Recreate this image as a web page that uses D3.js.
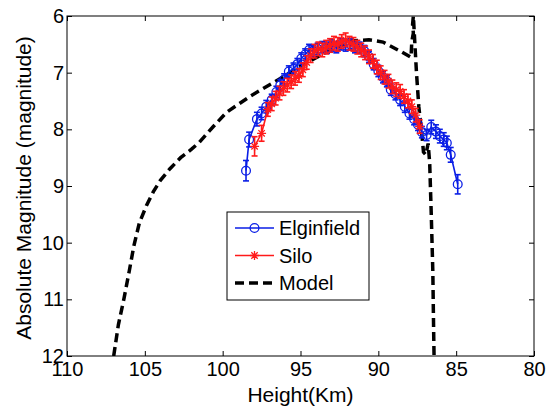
<!DOCTYPE html>
<html>
<head>
<meta charset="utf-8">
<script src="https://cdn.jsdelivr.net/npm/d3@7"></script>
<style>
  body { margin: 0; background: #fff; }
  text { font-family: "Liberation Sans", Arial, sans-serif; }
</style>
</head>
<body>
<div class="chart"></div>
<script>
// Elginfield meteor light curve (height km, abs magnitude, error)
const elginHeight = [98.5, 98.3, 97.8, 97.5, 97.2, 96.85, 96.55, 96.3, 96.05, 95.75, 95.45, 95.2, 94.95, 94.7, 94.45, 94.2, 93.9, 93.6, 93.3, 93.0, 92.7, 92.4, 92.1, 91.8, 91.5, 91.2, 90.9, 90.6, 90.3, 90.0, 89.7, 89.45, 89.2, 88.9, 88.6, 88.3, 88.0, 87.7, 87.45, 87.2, 86.9, 86.6, 86.3, 86.05, 85.8, 85.6, 85.35, 84.9]
const elginMag    = [8.73, 8.18, 7.82, 7.72, 7.6, 7.48, 7.34, 7.22, 7.12, 6.98, 6.93, 6.85, 6.75, 6.68, 6.6, 6.62, 6.58, 6.55, 6.56, 6.52, 6.55, 6.5, 6.52, 6.5, 6.55, 6.56, 6.62, 6.72, 6.85, 6.97, 7.08, 7.15, 7.3, 7.38, 7.48, 7.6, 7.72, 7.82, 7.92, 8.05, 8.1, 7.96, 8.04, 8.12, 8.18, 8.24, 8.45, 8.97]
const elginErr    = [0.18, 0.13, 0.12, 0.11, 0.11, 0.1, 0.1, 0.1, 0.1, 0.1, 0.1, 0.1, 0.1, 0.1, 0.1, 0.1, 0.1, 0.1, 0.1, 0.1, 0.1, 0.1, 0.1, 0.1, 0.1, 0.1, 0.1, 0.1, 0.1, 0.1, 0.1, 0.1, 0.1, 0.1, 0.1, 0.1, 0.1, 0.1, 0.1, 0.1, 0.1, 0.12, 0.12, 0.12, 0.12, 0.12, 0.13, 0.17]

// Silo
const siloHeight = [97.95, 97.5, 97.1, 96.85, 96.6, 96.35, 96.1, 95.85, 95.6, 95.35, 95.1, 94.85, 94.6, 94.35, 94.1, 93.85, 93.6, 93.35, 93.1, 92.85, 92.6, 92.35, 92.1, 91.85, 91.6, 91.35, 91.1, 90.85, 90.6, 90.35, 90.1, 89.85, 89.6, 89.35, 89.1, 88.85, 88.6, 88.35, 88.1, 87.85, 87.6, 87.35]
const siloMag    = [8.3, 8.07, 7.65, 7.55, 7.45, 7.36, 7.28, 7.22, 7.16, 7.1, 7.05, 6.95, 6.82, 6.7, 6.62, 6.58, 6.6, 6.55, 6.52, 6.48, 6.5, 6.45, 6.42, 6.48, 6.5, 6.55, 6.6, 6.65, 6.72, 6.8, 6.9, 7.0, 7.08, 7.15, 7.25, 7.3, 7.33, 7.42, 7.5, 7.6, 7.75, 7.95]
const siloErr    = [0.17, 0.14, 0.12, 0.12, 0.12, 0.12, 0.12, 0.12, 0.12, 0.12, 0.12, 0.12, 0.12, 0.12, 0.12, 0.12, 0.12, 0.12, 0.12, 0.12, 0.12, 0.12, 0.12, 0.12, 0.12, 0.12, 0.12, 0.12, 0.12, 0.12, 0.12, 0.12, 0.12, 0.12, 0.12, 0.12, 0.12, 0.12, 0.12, 0.12, 0.12, 0.12]

// model curve
const modelHeight = [107.0, 106.7, 106.35, 106.0, 105.7, 105.35, 104.9, 104.45, 104.0, 103.4, 102.7, 102.0, 101.5, 100.6, 99.75, 98.2, 96.4, 94.8, 93.0, 91.7, 90.6, 89.7, 88.6, 87.9, 87.85, 87.75, 87.8, 87.75, 87.65, 87.55, 87.4, 87.2, 87.1, 86.95, 86.8, 86.7, 86.6, 86.5, 86.45, 86.42]
const modelMag    = [12.0, 11.45, 11.0, 10.5, 10.05, 9.65, 9.35, 9.1, 8.9, 8.7, 8.5, 8.35, 8.23, 7.95, 7.7, 7.41, 7.12, 6.85, 6.59, 6.44, 6.42, 6.46, 6.62, 6.73, 6.45, 6.3, 6.15, 6.0, 6.5, 7.0, 7.6, 8.1, 8.4, 8.45, 8.25, 8.6, 9.5, 10.5, 11.5, 12.0]

const xTicks = [110, 105, 100, 95, 90, 85, 80]
const yTicks = [6, 7, 8, 9, 10, 11, 12]
const seriesNames = ["Elginfield", "Silo", "Model"]

const width = 547, height = 407
const margin = {top:16, right:13, bottom:51, left:67}
const svg = d3.select(".chart").append("svg").attr("width", width).attr("height", height)
svg.append("rect").attr("width", width).attr("height", height).attr("fill", "#fff")

const x = d3.scaleLinear().domain([110, 80]).range([margin.left, width - margin.right])
const y = d3.scaleLinear().domain([6, 12]).range([margin.top, height - margin.bottom])

svg.append("clipPath").attr("id", "plotclip").append("rect")
   .attr("x", x(110)).attr("y", y(6) - 1).attr("width", x(80) - x(110)).attr("height", y(12) - y(6) + 1)

// axes (inward ticks on all four sides, like matlab box)
const fontSize = 20
const bottomAxis = svg.append("g").attr("transform", `translate(0,${y(12)})`)
   .call(d3.axisBottom(x).tickValues(xTicks).tickSize(-5).tickPadding(6).tickFormat(d3.format("d")))
const leftAxis = svg.append("g").attr("transform", `translate(${x(110)},0)`)
   .call(d3.axisLeft(y).tickValues(yTicks).tickSize(-5).tickPadding(3).tickFormat(d3.format("d")))
const topAxis = svg.append("g").attr("transform", `translate(0,${y(6)})`)
   .call(d3.axisTop(x).tickValues(xTicks).tickSize(-5).tickFormat(""))
const rightAxis = svg.append("g").attr("transform", `translate(${x(80)},0)`)
   .call(d3.axisRight(y).tickValues(yTicks).tickSize(-5).tickFormat(""))
;[bottomAxis, leftAxis, topAxis, rightAxis].forEach(a => {
    a.select(".domain").remove()
    a.selectAll("line").attr("stroke", "#000")
    a.selectAll("text").attr("fill", "#000").style("font-size", fontSize + "px")
        .style("font-family", "'Liberation Sans', Arial, sans-serif")
})

const plot = svg.append("g").attr("clip-path", "url(#plotclip)")

// model dashed line
const line = d3.line()
plot.append("path")
    .attr("d", line(modelHeight.map((h, i) => [x(h), y(modelMag[i])])))
    .attr("fill", "none").attr("stroke", "#000").attr("stroke-width", 3.5)
    .attr("stroke-dasharray", "9,5")

function drawSeries(hs, ms, es, colour, marker) {
    const pts = hs.map((h, i) => ({h: h, m: ms[i], e: es[i]}))
    const g = plot.append("g")
    g.append("path").attr("d", line(pts.map(p => [x(p.h), y(p.m)])))
     .attr("fill", "none").attr("stroke", colour).attr("stroke-width", 1.6)
    // error bars
    const eb = g.selectAll(".eb").data(pts).enter().append("g")
    eb.append("line").attr("x1", p => x(p.h)).attr("x2", p => x(p.h))
      .attr("y1", p => y(p.m - p.e)).attr("y2", p => y(p.m + p.e))
    eb.append("line").attr("x1", p => x(p.h) - 3).attr("x2", p => x(p.h) + 3)
      .attr("y1", p => y(p.m - p.e)).attr("y2", p => y(p.m - p.e))
    eb.append("line").attr("x1", p => x(p.h) - 3).attr("x2", p => x(p.h) + 3)
      .attr("y1", p => y(p.m + p.e)).attr("y2", p => y(p.m + p.e))
    eb.selectAll("line").attr("stroke", colour).attr("stroke-width", 1.6)
    g.selectAll(".mk").data(pts).enter().append("path")
     .attr("transform", p => `translate(${x(p.h)},${y(p.m)})`)
     .attr("d", marker).attr("fill", "none").attr("stroke", colour).attr("stroke-width", 1.3)
}
const circleMarker = d3.symbol().type(d3.symbolCircle).size(60)()
const starMarker = "M-4.5,0L4.5,0M0,-4.5L0,4.5M-3.2,-3.2L3.2,3.2M-3.2,3.2L3.2,-3.2"

drawSeries(elginHeight, elginMag, elginErr, "#0a1ee6", circleMarker)
drawSeries(siloHeight, siloMag, siloErr, "#ff1a1a", starMarker)

// frame
svg.append("rect").attr("x", x(110)).attr("y", y(6)).attr("width", x(80) - x(110)).attr("height", y(12) - y(6))
   .attr("fill", "none").attr("stroke", "#000").attr("stroke-width", 1)

// axis titles
svg.append("text").attr("x", (x(110) + x(80)) / 2).attr("y", 402).attr("text-anchor", "middle")
   .style("font-size", "21px").attr("fill", "#000").text("Height(Km)")
svg.append("text").attr("transform", `translate(31,${(y(6) + y(12)) / 2 + 2}) rotate(-90)`)
   .attr("text-anchor", "middle").style("font-size", "21px").attr("fill", "#000")
   .text("Absolute Magnitude (magnitude)")

// legend
const legendBox = svg.append("g").attr("transform", "translate(227,212)")
legendBox.append("rect").attr("width", 142).attr("height", 88).attr("fill", "#fff")
   .attr("stroke", "#000").attr("stroke-width", 1)
const legendStyle = [
    {colour: "#0a1ee6", dash: null, width: 1.6, marker: circleMarker},
    {colour: "#ff1a1a", dash: null, width: 1.6, marker: starMarker},
    {colour: "#000", dash: "9,5", width: 3.5, marker: null}
]
const legend = legendBox.selectAll(".legend").data(seriesNames).enter().append("g")
   .attr("transform", (d, i) => `translate(0,${16 + i * 27.5})`)
legend.append("line").attr("x1", 8).attr("x2", 47).attr("y1", 0).attr("y2", 0)
   .attr("stroke", (d, i) => legendStyle[i].colour).attr("stroke-width", (d, i) => legendStyle[i].width)
   .attr("stroke-dasharray", (d, i) => legendStyle[i].dash)
legend.filter((d, i) => legendStyle[i].marker).append("path")
   .attr("transform", "translate(27.5,0)").attr("d", (d, i) => legendStyle[i].marker)
   .attr("fill", "none").attr("stroke", (d, i) => legendStyle[i].colour).attr("stroke-width", 1.3)
legend.append("text").attr("x", 52).attr("y", 7).style("font-size", "20px").attr("fill", "#000").text(d => d)
</script>
</body>
</html>
